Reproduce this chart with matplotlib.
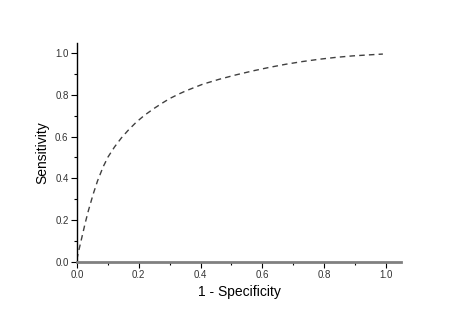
import matplotlib
matplotlib.use("Agg")
import matplotlib.pyplot as plt
from matplotlib.ticker import MultipleLocator

fpr = [0.0, 0.005, 0.016, 0.027, 0.037, 0.053, 0.067, 0.085, 0.101, 0.122, 0.144,
       0.165, 0.191, 0.218, 0.25, 0.277, 0.300, 0.330, 0.354, 0.407, 0.461, 0.515,
       0.569, 0.623, 0.676, 0.730, 0.784, 0.838, 0.891, 0.945, 0.99]
tpr = [0.01, 0.045, 0.115, 0.185, 0.243, 0.325, 0.388, 0.455, 0.503, 0.551, 0.594,
       0.629, 0.668, 0.702, 0.736, 0.762, 0.783, 0.805, 0.821, 0.852, 0.876, 0.897,
       0.916, 0.933, 0.948, 0.961, 0.972, 0.981, 0.988, 0.993, 0.997]
ticks = [0.0, 0.2, 0.4, 0.6, 0.8, 1.0]
tick_labels = ["0.0", "0.2", "0.4", "0.6", "0.8", "1.0"]

plt.rcParams['font.family'] = ['Liberation Sans', 'DejaVu Sans']
fig = plt.figure(figsize=(4.63, 3.14), dpi=100)
ax = fig.add_axes([0.166, 0.167, 0.867 - 0.166, 0.863 - 0.167])
ax.plot(fpr, tpr, color='#404040', lw=1.0, dashes=(4, 3))
ax.set_xlim(0, 1.05)
ax.set_ylim(0, 1.05)
ax.set_xticks(ticks)
ax.set_xticklabels(tick_labels)
ax.set_yticks(ticks)
ax.set_yticklabels(tick_labels)
ax.xaxis.set_minor_locator(MultipleLocator(0.1))
ax.yaxis.set_minor_locator(MultipleLocator(0.1))
ax.tick_params(which='major', direction='out', length=4, width=0.8, labelsize=7, pad=2, colors='black', labelcolor='#333333')
ax.tick_params(which='minor', direction='out', length=2, width=0.8)
for s in ['top', 'right']:
    ax.spines[s].set_visible(False)
ax.spines['left'].set_linewidth(1.0)
ax.spines['bottom'].set_color('#808080')
ax.spines['bottom'].set_linewidth(2.0)
ax.set_xlabel('1 - Specificity', fontsize=10, labelpad=4)
ax.set_ylabel('Sensitivity', fontsize=10, labelpad=4)
fig.savefig('out.png', dpi=100)
